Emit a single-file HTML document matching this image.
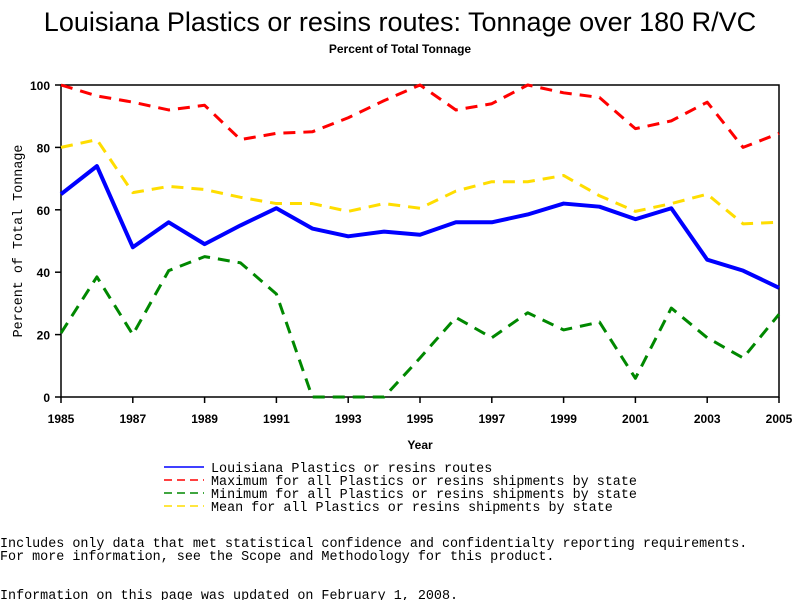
<!DOCTYPE html>
<html><head><meta charset="utf-8"><style>
body{margin:0;background:#fff;width:800px;height:600px;overflow:hidden}
svg{display:block}
.m{font-family:"Liberation Mono",monospace;font-size:13.4px;fill:#000}
</style></head><body>
<svg id="c" width="800" height="600">
<text x="400" y="31" text-anchor="middle" font-family="Liberation Sans,sans-serif" font-size="27">Louisiana Plastics or resins routes: Tonnage over 180 R/VC</text>
<text x="400" y="53" text-anchor="middle" font-family="Liberation Sans,sans-serif" font-size="12" font-weight="bold">Percent of Total Tonnage</text>
<rect x="61" y="85" width="718" height="312" fill="none" stroke="#000" stroke-width="1.5"/>
<g id="axes"></g>
<g id="series"></g>
<text x="420" y="449" text-anchor="middle" font-family="Liberation Sans,sans-serif" font-size="12" font-weight="bold">Year</text>
<text transform="translate(22,241) rotate(-90)" text-anchor="middle" class="m" font-size="12">Percent of Total Tonnage</text>
<g>
<line x1="164" y1="467" x2="204" y2="467" stroke="#00f" stroke-width="1.5"/>
<text x="211" y="472" class="m">Louisiana Plastics or resins routes</text>
<line x1="164" y1="480" x2="204" y2="480" stroke="#f00" stroke-width="1.5" stroke-dasharray="8,5"/>
<text x="211" y="485" class="m">Maximum for all Plastics or resins shipments by state</text>
<line x1="164" y1="493" x2="204" y2="493" stroke="#080" stroke-width="1.5" stroke-dasharray="8,5"/>
<text x="211" y="498" class="m">Minimum for all Plastics or resins shipments by state</text>
<line x1="164" y1="506" x2="204" y2="506" stroke="#fd0" stroke-width="1.5" stroke-dasharray="8,5"/>
<text x="211" y="511" class="m">Mean for all Plastics or resins shipments by state</text>
</g>
<text x="0" y="547" class="m">Includes only data that met statistical confidence and confidentialty reporting requirements.</text>
<text x="0" y="560" class="m">For more information, see the Scope and Methodology for this product.</text>
<text x="0" y="599" class="m">Information on this page was updated on February 1, 2008.</text>
</svg>
<script>
const years=[1985,1986,1987,1988,1989,1990,1991,1992,1993,1994,1995,1996,1997,1998,1999,2000,2001,2002,2003,2004,2005];
const louisiana=[65,74,48,56,49,55,60.5,54,51.5,53,52,56,56,58.5,62,61,57,60.5,44,40.5,35];
const maximum=[100,96.5,94.5,92,93.5,82.5,84.5,85,89.5,95,100,92,94,100,97.5,96,86,88.5,94.5,80,84.5];
const minimum=[20.5,38.5,20,40.5,45,43,33,0,0,0,12.5,25.5,19,27,21.5,24,6,28.5,19,12.5,26.5];
const mean=[80,82.5,65.5,67.5,66.5,64,62,62,59.5,62,60.5,66,69,69,71,64.5,59.5,62,65,55.5,56];
const yTicks=[0,20,40,60,80,100];
const xTicks=[1985,1987,1989,1991,1993,1995,1997,1999,2001,2003,2005];
const NS="http://www.w3.org/2000/svg";
const X=y=>61+(y-1985)*718/20, Y=v=>397-v*3.12;
const ax=document.getElementById('axes'), sg=document.getElementById('series');
function mk(tag,a,p){const e=document.createElementNS(NS,tag);for(const k in a)e.setAttribute(k,a[k]);p.appendChild(e);return e;}
yTicks.forEach(v=>{
 const l=mk('line',{x1:55,x2:61,y1:Y(v),y2:Y(v),stroke:'#000','stroke-width':1.5},ax);
 
 
 const t=mk('text',{x:50,y:Y(v)+5,'text-anchor':'end','font-family':'Liberation Sans,sans-serif','font-size':12,'font-weight':'bold'},ax);
 t.textContent=v;
 
 
});
xTicks.forEach(v=>{
 const l=mk('line',{x1:X(v),x2:X(v),y1:397,y2:403,stroke:'#000','stroke-width':1.5},ax);
 
 
 const t=mk('text',{x:X(v),y:423,'text-anchor':'middle','font-family':'Liberation Sans,sans-serif','font-size':12,'font-weight':'bold'},ax);
 t.textContent=v;
 
 
});
function line(data,color,w,dash,name){
 const p=mk('polyline',{points:data.map((v,i)=>X(years[i])+','+Y(v)).join(' '),fill:'none',stroke:color,'stroke-width':w,'stroke-linejoin':'round'},sg);
 if(dash)p.setAttribute('stroke-dasharray',dash);
 
 
}
line(maximum,'#f00',3,'12,8','maximum-line');
line(mean,'#fd0',3,'12,8','mean-line');
line(minimum,'#080',3,'12,8','minimum-line');
line(louisiana,'#00f',4,null,'louisiana-line');
</script>
</body></html>
